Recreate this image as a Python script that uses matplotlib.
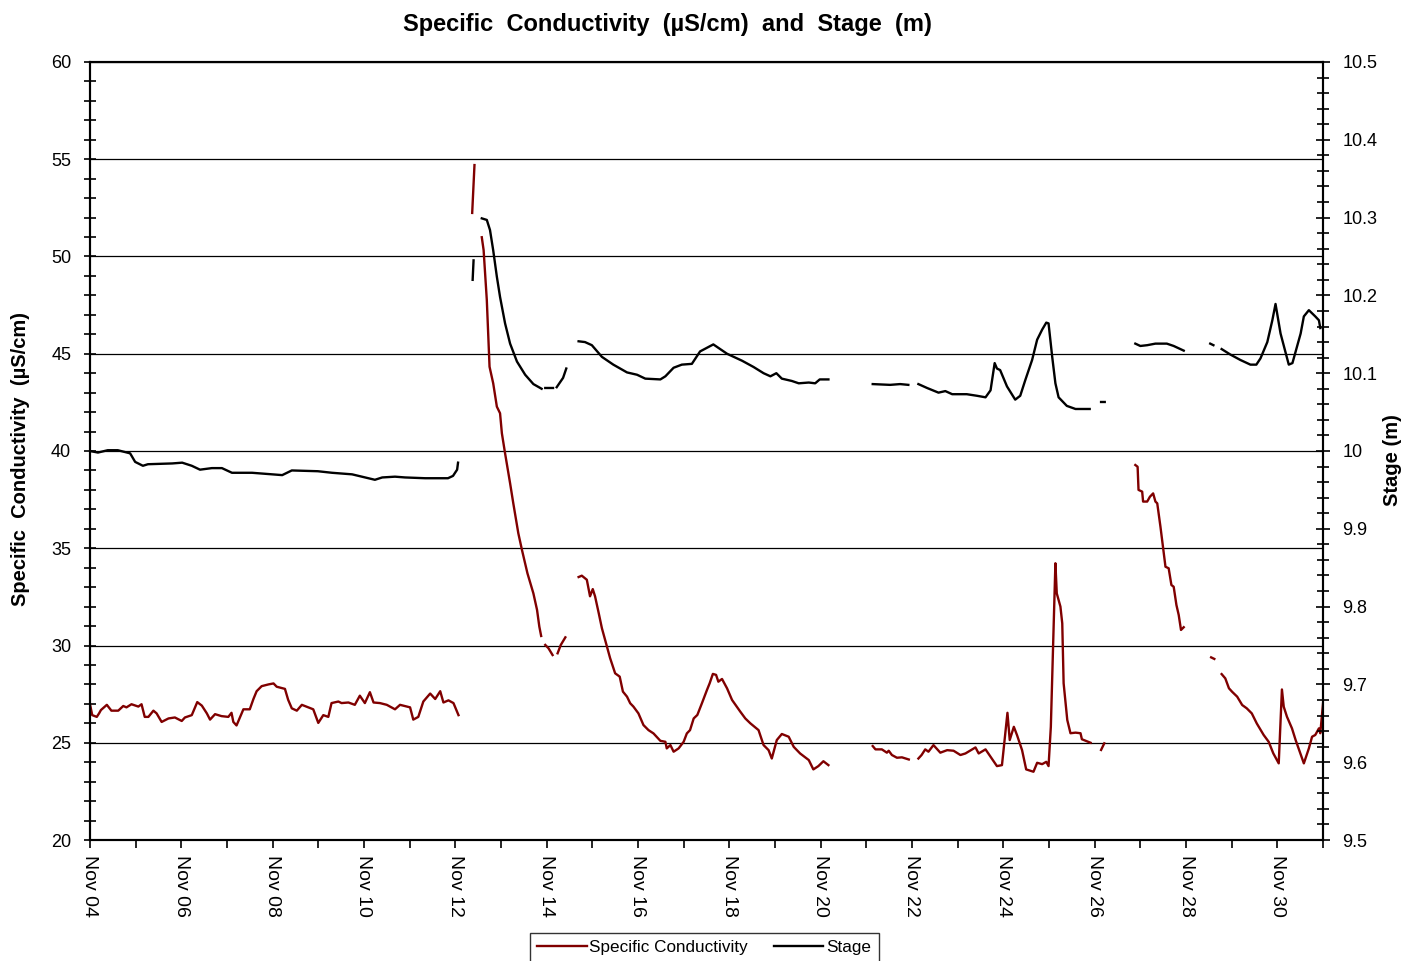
import datetime
import numpy as np
import matplotlib
matplotlib.use('Agg')
import matplotlib.pyplot as mp
import matplotlib.dates as mdates
from matplotlib.ticker import MultipleLocator, FuncFormatter

mp.rcParams['font.family'] = ['Liberation Sans', 'DejaVu Sans']

start = datetime.datetime(2009, 11, 4)

# (days since Nov 04, value); None marks a gap in the record
cond_points = [
	(0.00, 27.0), (0.05, 26.42), (0.15, 26.33), (0.20, 26.51), (0.24, 26.68), (0.37, 26.95),
	(0.47, 26.65), (0.62, 26.65), (0.73, 26.89), (0.80, 26.82), (0.91, 26.98), (1.06, 26.86),
	(1.13, 26.98), (1.20, 26.33), (1.28, 26.33), (1.39, 26.65), (1.46, 26.51), (1.57, 26.07),
	(1.72, 26.25), (1.86, 26.30), (2.01, 26.12), (2.08, 26.30), (2.23, 26.42), (2.35, 27.09),
	(2.45, 26.91), (2.56, 26.51), (2.63, 26.19), (2.74, 26.47), (2.88, 26.37), (3.03, 26.33),
	(3.10, 26.54), (3.14, 26.07), (3.21, 25.89), (3.29, 26.33), (3.36, 26.72), (3.50, 26.72),
	(3.58, 27.25), (3.65, 27.65), (3.76, 27.91), (3.91, 28.0), (4.02, 28.05), (4.09, 27.88),
	(4.27, 27.77), (4.34, 27.21), (4.42, 26.77), (4.53, 26.65), (4.64, 26.95), (4.78, 26.82),
	(4.89, 26.72), (5.00, 26.02), (5.11, 26.42), (5.22, 26.33), (5.29, 27.04), (5.44, 27.12),
	(5.51, 27.04), (5.66, 27.07), (5.80, 26.95), (5.91, 27.42), (6.02, 27.04), (6.13, 27.60),
	(6.21, 27.07), (6.35, 27.04), (6.50, 26.95), (6.68, 26.72), (6.79, 26.95), (7.01, 26.82),
	(7.08, 26.19), (7.19, 26.33), (7.30, 27.12), (7.45, 27.53), (7.56, 27.25), (7.67, 27.65),
	(7.74, 27.07), (7.85, 27.18), (7.96, 27.04), (8.07, 26.42),
	(8.2, None),
	(8.37, 52.24), (8.42, 54.70),
	(8.5, None),
	(8.58, 50.99), (8.62, 50.33), (8.69, 47.76), (8.75, 44.33), (8.83, 43.48), (8.91, 42.28),
	(8.98, 41.94), (9.02, 40.91), (9.09, 39.88), (9.20, 38.34), (9.27, 37.31), (9.38, 35.77),
	(9.46, 34.91), (9.58, 33.71), (9.71, 32.68), (9.79, 31.83), (9.84, 30.97), (9.88, 30.49),
	(9.92, None),
	(9.97, 30.03), (10.04, 29.86), (10.13, 29.51),
	(10.18, None),
	(10.24, 29.60), (10.31, 30.03), (10.41, 30.42),
	(10.5, None),
	(10.70, 33.52), (10.77, 33.59), (10.88, 33.38), (10.95, 32.53), (11.01, 32.90), (11.06, 32.53),
	(11.14, 31.67), (11.21, 30.89), (11.32, 29.95), (11.39, 29.35), (11.50, 28.57), (11.60, 28.40),
	(11.67, 27.63), (11.76, 27.37), (11.83, 27.03), (11.90, 26.86), (12.01, 26.51), (12.12, 25.91),
	(12.23, 25.65), (12.34, 25.48), (12.49, 25.10), (12.60, 25.05), (12.63, 24.71), (12.71, 24.88),
	(12.78, 24.54), (12.89, 24.71), (13.00, 25.05), (13.07, 25.48), (13.14, 25.65), (13.22, 26.25),
	(13.30, 26.43), (13.40, 27.03), (13.51, 27.71), (13.57, 28.06), (13.64, 28.54), (13.71, 28.49),
	(13.76, 28.14), (13.84, 28.28), (13.95, 27.80), (14.06, 27.20), (14.24, 26.60), (14.35, 26.25),
	(14.46, 26.00), (14.64, 25.65), (14.75, 24.88), (14.86, 24.62), (14.93, 24.19), (15.04, 25.14),
	(15.15, 25.45), (15.30, 25.31), (15.41, 24.79), (15.55, 24.45), (15.74, 24.11), (15.84, 23.63),
	(15.95, 23.80), (16.06, 24.05), (16.17, 23.85),
	(16.6, None),
	(17.14, 24.83), (17.20, 24.66), (17.34, 24.66), (17.45, 24.49), (17.49, 24.59), (17.56, 24.37),
	(17.67, 24.23), (17.78, 24.25), (17.93, 24.14),
	(18.03, None),
	(18.14, 24.19), (18.21, 24.37), (18.29, 24.66), (18.36, 24.54), (18.47, 24.88), (18.62, 24.49),
	(18.77, 24.62), (18.91, 24.59), (19.06, 24.37), (19.17, 24.45), (19.32, 24.66), (19.39, 24.76),
	(19.46, 24.45), (19.61, 24.66), (19.72, 24.28), (19.86, 23.80), (19.97, 23.85), (20.09, 26.54),
	(20.14, 25.14), (20.23, 25.82), (20.30, 25.39), (20.41, 24.62), (20.50, 23.63), (20.66, 23.51),
	(20.74, 23.97), (20.85, 23.90), (20.94, 24.02), (20.99, 23.80), (21.04, 25.82), (21.14, 34.23),
	(21.17, 32.68), (21.25, 32.0), (21.29, 31.14), (21.32, 28.06), (21.40, 26.17), (21.47, 25.49),
	(21.58, 25.52), (21.69, 25.49), (21.72, 25.18), (21.91, 25.0),
	(22.0, None),
	(22.14, 24.63), (22.21, 24.97),
	(22.5, None),
	(22.89, 39.28), (22.94, 39.19), (22.96, 38.0), (23.04, 37.91), (23.06, 37.40), (23.15, 37.40),
	(23.21, 37.65), (23.28, 37.82), (23.33, 37.40), (23.37, 37.31), (23.44, 36.11), (23.50, 35.0),
	(23.55, 34.05), (23.62, 33.97), (23.68, 33.11), (23.73, 33.02), (23.79, 32.08), (23.84, 31.57),
	(23.89, 30.80), (23.95, 30.94),
	(24.2, None),
	(24.55, 29.39), (24.62, 29.31),
	(24.7, None),
	(24.78, 28.53), (24.86, 28.31), (24.94, 27.80), (25.01, 27.62), (25.12, 27.37), (25.23, 26.94),
	(25.33, 26.77), (25.44, 26.51), (25.55, 25.99), (25.70, 25.40), (25.81, 25.05), (25.91, 24.46),
	(26.03, 23.94), (26.10, 27.74), (26.14, 26.85), (26.21, 26.34), (26.32, 25.74), (26.40, 25.14),
	(26.58, 23.94), (26.69, 24.71), (26.76, 25.31), (26.83, 25.40), (26.91, 25.74), (26.94, 25.49),
	(27.00, 27.02),
]

stage_points = [
	(0.00, 10.0), (0.175, 9.998), (0.39, 10.001), (0.61, 10.001), (0.88, 9.997), (0.99, 9.986),
	(1.16, 9.981), (1.27, 9.983), (1.80, 9.984), (2.02, 9.985), (2.23, 9.981), (2.41, 9.976),
	(2.67, 9.978), (2.89, 9.978), (3.11, 9.972), (3.55, 9.972), (3.99, 9.970), (4.21, 9.969),
	(4.42, 9.975), (4.99, 9.974), (5.30, 9.972), (5.74, 9.970), (6.09, 9.965), (6.24, 9.963),
	(6.40, 9.966), (6.68, 9.967), (6.90, 9.966), (7.34, 9.965), (7.84, 9.965), (7.95, 9.968),
	(8.04, 9.976), (8.06, 9.985),
	(8.2, None),
	(8.38, 10.220), (8.40, 10.245),
	(8.5, None),
	(8.58, 10.299), (8.69, 10.297), (8.76, 10.284), (8.83, 10.258), (8.91, 10.224), (8.98, 10.198),
	(9.09, 10.164), (9.20, 10.138), (9.35, 10.115), (9.53, 10.098), (9.71, 10.086), (9.89, 10.080),
	(9.93, None),
	(9.97, 10.081), (10.14, 10.081),
	(10.18, None),
	(10.22, 10.082), (10.36, 10.094), (10.43, 10.106),
	(10.5, None),
	(10.70, 10.141), (10.84, 10.140), (10.99, 10.136), (11.21, 10.121), (11.46, 10.111), (11.76, 10.101),
	(11.98, 10.098), (12.16, 10.093), (12.49, 10.092), (12.60, 10.096), (12.78, 10.107), (12.96, 10.111),
	(13.18, 10.112), (13.36, 10.128), (13.65, 10.137), (13.95, 10.125), (14.28, 10.116), (14.53, 10.108),
	(14.75, 10.100), (14.90, 10.096), (15.03, 10.100), (15.15, 10.093), (15.37, 10.090), (15.52, 10.087),
	(15.74, 10.088), (15.88, 10.087), (15.98, 10.092), (16.17, 10.092),
	(16.6, None),
	(17.14, 10.086), (17.52, 10.085), (17.74, 10.086), (17.92, 10.085),
	(18.03, None),
	(18.14, 10.086), (18.33, 10.081), (18.58, 10.075), (18.73, 10.077), (18.88, 10.073), (19.20, 10.073),
	(19.42, 10.071), (19.61, 10.069), (19.72, 10.078), (19.81, 10.113), (19.86, 10.106), (19.93, 10.104),
	(20.08, 10.083), (20.26, 10.066), (20.37, 10.071), (20.48, 10.091), (20.63, 10.117), (20.74, 10.143),
	(20.85, 10.156), (20.94, 10.165), (20.99, 10.164), (21.07, 10.121), (21.14, 10.087), (21.21, 10.069),
	(21.39, 10.058), (21.58, 10.054), (21.89, 10.054),
	(22.0, None),
	(22.14, 10.063), (22.22, 10.063),
	(22.5, None),
	(22.89, 10.138), (23.00, 10.135), (23.15, 10.136), (23.33, 10.138), (23.58, 10.138), (23.73, 10.135),
	(23.95, 10.129),
	(24.2, None),
	(24.53, 10.138), (24.60, 10.136),
	(24.7, None),
	(24.78, 10.131), (24.97, 10.124), (25.19, 10.117), (25.41, 10.111), (25.54, 10.111), (25.63, 10.119),
	(25.78, 10.140), (25.89, 10.168), (25.96, 10.189), (26.07, 10.151), (26.25, 10.111), (26.33, 10.113),
	(26.51, 10.151), (26.58, 10.173), (26.69, 10.181), (26.83, 10.173), (26.91, 10.168), (26.94, 10.158),
]


def unpack(points):
	t = np.array([p[0] for p in points], dtype=float)
	v = np.array([np.nan if p[1] is None else p[1] for p in points], dtype=float)
	return mdates.date2num(start) + t, v


cond_t, cond_v = unpack(cond_points)
stage_t, stage_v = unpack(stage_points)

fig = mp.figure(figsize=(14.03, 9.61), dpi=100)
ax = fig.add_axes([0.0641, 0.1259, 0.8789, 0.8096])
ax2 = ax.twinx()

l1, = ax.plot(cond_t, cond_v, color='#800000', lw=1.7, label='Specific Conductivity')
l2, = ax2.plot(stage_t, stage_v, color='black', lw=1.7, label='Stage')

ax.set_xlim(mdates.date2num(start), mdates.date2num(start) + 27)
ax.set_ylim(20, 60)
ax2.set_ylim(9.5, 10.5)

ax.yaxis.set_major_locator(MultipleLocator(5))
ax.yaxis.set_minor_locator(MultipleLocator(1))
ax2.yaxis.set_major_locator(MultipleLocator(0.1))
ax2.yaxis.set_minor_locator(MultipleLocator(0.02))
ax2.yaxis.set_major_formatter(FuncFormatter(lambda v, p: '%g' % round(v, 2)))

ax.xaxis.set_major_locator(mdates.DayLocator(bymonthday=range(2, 32, 2)))
ax.xaxis.set_minor_locator(mdates.DayLocator())
ax.xaxis.set_major_formatter(mdates.DateFormatter('%b %d'))

ax.yaxis.grid(True, which='major', color='black', lw=0.9)
ax.set_axisbelow(True)

for a in (ax, ax2):
	for s in a.spines.values():
		s.set_linewidth(1.5)

ax.tick_params(axis='y', which='both', direction='inout', length=9, width=1.2, labelsize=13, pad=9)
ax2.tick_params(axis='y', which='major', direction='inout', length=10, width=1.2, labelsize=13, pad=9)
ax2.tick_params(axis='y', which='minor', direction='inout', length=8, width=1.2)
ax.tick_params(axis='x', which='both', direction='out', length=6, width=1.2, labelsize=14, pad=5)
mp.setp(ax.get_xticklabels(), rotation=270, ha='center', va='top')

ax.set_ylabel('Specific  Conductivity  (\u00b5S/cm)', fontsize=14.5, fontweight='bold')
ax.yaxis.set_label_coords(-0.049, 0.49)
ax2.set_ylabel('Stage (m)', fontsize=14.5, fontweight='bold', rotation=90)
ax2.yaxis.set_label_coords(1.049, 0.488)

fig.text(0.4754, 0.974, 'Specific  Conductivity  (\u00b5S/cm)  and  Stage  (m)',
	fontsize=17, fontweight='bold', ha='center', va='center')

leg = fig.legend(handles=[l1, l2], loc='upper center', bbox_to_anchor=(0.5018, 0.0295),
	ncol=2, fontsize=12.3, frameon=True, fancybox=False, handlelength=2.9,
	handletextpad=0.15, columnspacing=1.5, borderaxespad=0, borderpad=0.45)
leg.get_frame().set_edgecolor('black')
leg.get_frame().set_linewidth(1.0)

fig.savefig('out.png', dpi=100)
